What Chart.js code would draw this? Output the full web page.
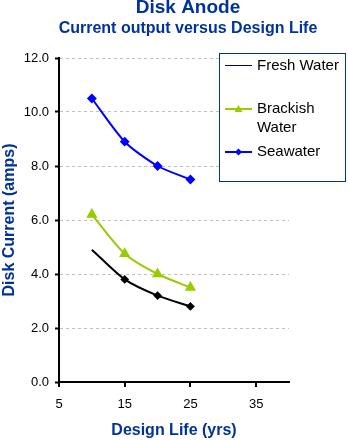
<!DOCTYPE html>
<html>
<head>
<meta charset="utf-8">
<script src="https://cdn.jsdelivr.net/npm/chart.js@4.4.0/dist/chart.umd.min.js"></script>
<style>
  body { margin: 0; background: #fff; }
  #wrap { width: 348px; height: 440px; }
</style>
</head>
<body>
<div id="wrap"><canvas id="anode-chart" width="348" height="440"></canvas></div>
<script>
const designLife = [10, 15, 20, 25];
const freshWater = [4.9, 3.8, 3.2, 2.8];
const brackishWater = [6.2, 4.75, 4.0, 3.5];
const seawater = [10.5, 8.9, 8.0, 7.5];
const xTicks = [5, 15, 25, 35];
const yTicks = [0, 2, 4, 6, 8, 10, 12];

const navy = '#003399';
const font = 'Liberation Sans, Arial, sans-serif';

function pts(ys) {
    return designLife.map((x, i) => ({ x: x, y: ys[i] }));
}

// titles drawn by hand, the original centres them off the plot
const titles = {
    id: 'titles',
    afterDraw(chart) {
        const ctx = chart.ctx;
        ctx.save();
        ctx.fillStyle = navy;
        ctx.textAlign = 'center';
        ctx.textBaseline = 'middle';
        ctx.font = 'bold 19px ' + font;
        ctx.fillText('Disk Anode', 188, 8);
        ctx.font = 'bold 16px ' + font;
        ctx.fillText('Current output versus Design Life', 188, 29);
        ctx.restore();
    }
};

// legend drawn by hand so the labels can wrap like the original
const legendBox = {
    id: 'legendBox',
    afterDraw(chart) {
        const ctx = chart.ctx;
        ctx.save();
        ctx.fillStyle = '#fff';
        ctx.fillRect(219, 53, 126, 128);
        ctx.strokeStyle = navy;
        ctx.lineWidth = 1;
        ctx.strokeRect(219.5, 53.5, 126, 128);

        const items = [
            { text: ['Fresh Water'], y: 65.5, color: '#000080', width: 1, style: false },
            { text: ['Brackish', 'Water'], y: 109, color: '#99CC00', width: 2, style: 'triangle' },
            { text: ['Seawater'], y: 152, color: '#0000FF', width: 2, style: 'rectRot' }
        ];
        ctx.font = '15px ' + font;
        ctx.textBaseline = 'middle';
        items.forEach(it => {
            ctx.strokeStyle = it.color;
            ctx.lineWidth = it.width;
            ctx.beginPath();
            ctx.moveTo(225, it.y);
            ctx.lineTo(252, it.y);
            ctx.stroke();
            if (it.style) {
                ctx.fillStyle = it.color;
                ctx.beginPath();
                if (it.style === 'triangle') {
                    ctx.moveTo(238.5, it.y - 4);
                    ctx.lineTo(242.5, it.y + 3);
                    ctx.lineTo(234.5, it.y + 3);
                } else {
                    ctx.moveTo(238.5, it.y - 3.5);
                    ctx.lineTo(242, it.y);
                    ctx.lineTo(238.5, it.y + 3.5);
                    ctx.lineTo(235, it.y);
                }
                ctx.closePath();
                ctx.fill();
            }
            ctx.fillStyle = '#000';
            it.text.forEach((t, i) => ctx.fillText(t, 257, Math.round(it.y) + i * 18.5));
        });
        ctx.restore();
    }
};

new Chart(document.getElementById('anode-chart'), {
    type: 'line',
    data: {
        datasets: [
            {
                label: 'Fresh Water',
                data: pts(freshWater),
                borderColor: '#000',
                backgroundColor: '#000',
                borderWidth: 2,
                pointStyle: 'rectRot',
                pointRadius: [0, 3, 3, 3],
                tension: 0.25
            },
            {
                label: 'Brackish Water',
                data: pts(brackishWater),
                borderColor: '#99CC00',
                backgroundColor: '#99CC00',
                borderWidth: 2,
                pointStyle: 'triangle',
                pointRadius: 4.5,
                tension: 0.25
            },
            {
                label: 'Seawater',
                data: pts(seawater),
                borderColor: '#0000FF',
                backgroundColor: '#0000FF',
                borderWidth: 2,
                pointStyle: 'rectRot',
                pointRadius: 3.5,
                tension: 0.25
            }
        ]
    },
    options: {
        responsive: false,
        animation: false,
        layout: { padding: { left: 0, right: 59, top: 58, bottom: 0 } },
        plugins: {
            legend: { display: false },
            tooltip: { enabled: false },
            title: { display: false }
        },
        scales: {
            x: {
                type: 'linear',
                min: 5,
                max: 40,
                afterBuildTicks: s => { s.ticks = xTicks.map(v => ({ value: v })); },
                afterFit: s => { s.height = 58; },
                grid: {
                    display: true,
                    drawOnChartArea: false,
                    color: '#000',
                    tickLength: 5,
                    lineWidth: 2
                },
                border: { display: true, color: '#000', width: 2 },
                ticks: { color: '#000', font: { family: font, size: 13 }, padding: 10 },
                title: {
                    display: true,
                    text: 'Design Life (yrs)',
                    color: navy,
                    font: { family: font, size: 16, weight: 'bold' },
                    padding: { top: 6, bottom: 0 }
                }
            },
            y: {
                min: 0,
                max: 12,
                afterBuildTicks: s => { s.ticks = yTicks.map(v => ({ value: v })); },
                afterFit: s => { s.width = 59; },
                grid: {
                    color: c => c.tick.value === 0 ? 'rgba(0,0,0,0)' : '#c0c0c0',
                    tickColor: '#000',
                    tickLength: 4,
                    tickWidth: 2,
                    tickBorderDash: []
                },
                border: { display: true, color: '#000', width: 2, dash: [3, 3] },
                ticks: {
                    color: '#000',
                    font: { family: font, size: 13 },
                    padding: 6,
                    callback: v => v.toFixed(1)
                },
                title: {
                    display: true,
                    text: 'Disk Current (amps)',
                    color: navy,
                    font: { family: font, size: 16, weight: 'bold' },
                    padding: { top: 0, bottom: 0 }
                }
            }
        }
    },
    plugins: [titles, legendBox]
});
</script>
</body>
</html>
